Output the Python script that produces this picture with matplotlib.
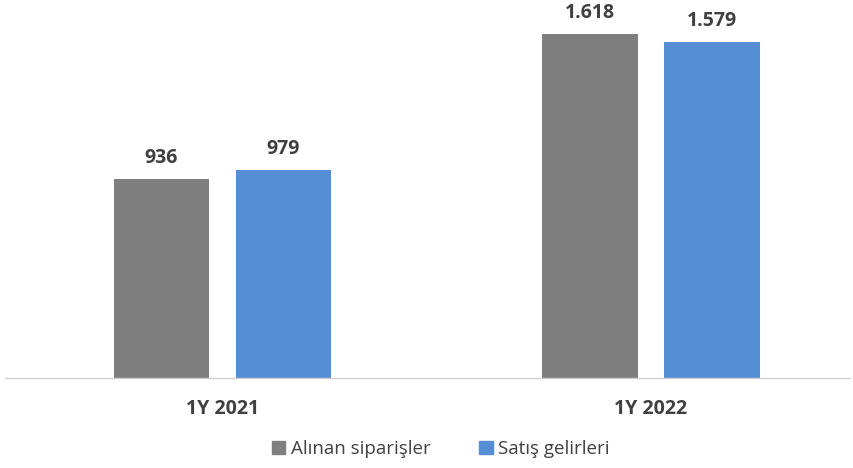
import numpy as np
import matplotlib.pyplot as plt
from matplotlib.patches import Patch

categories = ['1Y 2021', '1Y 2022']
alinan = [936, 1618]
satis = [979, 1579]
labels_alinan = ['936', '1.618']
labels_satis = ['979', '1.579']
series_names = ['Alınan siparişler', 'Satış gelirleri']

gray = '#7f7f7f'
blue = '#558ed5'
txt = '#404040'

plt.rcParams['font.family'] = ['Open Sans', 'DejaVu Sans']

fig = plt.figure(figsize=(8.54, 4.68), dpi=100)
W, H = 854, 468
ax = fig.add_axes([5 / W, (H - 378) / H, 845 / W, 378 / H])

x = np.arange(len(categories))
w = 0.222
off = 0.1424
b1 = ax.bar(x - off, alinan, w, color=gray)
b2 = ax.bar(x + off, satis, w, color=blue)

for bars, labs in ((b1, labels_alinan), (b2, labels_satis)):
    for r, lab in zip(bars, labs):
        ax.annotate(lab, (r.get_x() + r.get_width() / 2, r.get_height()),
                    xytext=(0, 8), textcoords='offset points',
                    ha='center', va='bottom', fontsize=14, fontweight='bold', color=txt)

ax.set_xlim(-(222.5 - 5) / 428.5, (850 - 222.5) / 428.5)
ax.set_ylim(0, 378 / 0.2126)
ax.set_xticks(x)
ax.set_xticklabels(categories, fontsize=14, fontweight='bold', color=txt)
ax.tick_params(axis='x', length=0, pad=15)
ax.set_yticks([])
for s in ['top', 'right', 'left']:
    ax.spines[s].set_visible(False)
ax.spines['bottom'].set_color('#d0d0d0')
ax.spines['bottom'].set_linewidth(1)

# legend sits a bit right of centre in the original
handles = [Patch(color=gray), Patch(color=blue)]
fig.legend(handles, series_names, loc='center', bbox_to_anchor=(441 / W, (H - 449) / H),
           ncol=2, frameon=False, fontsize=13.5, labelcolor=txt,
           handlelength=0.7, handleheight=0.7, handletextpad=0.3, columnspacing=2.6)

fig.savefig('out.png', dpi=100)
